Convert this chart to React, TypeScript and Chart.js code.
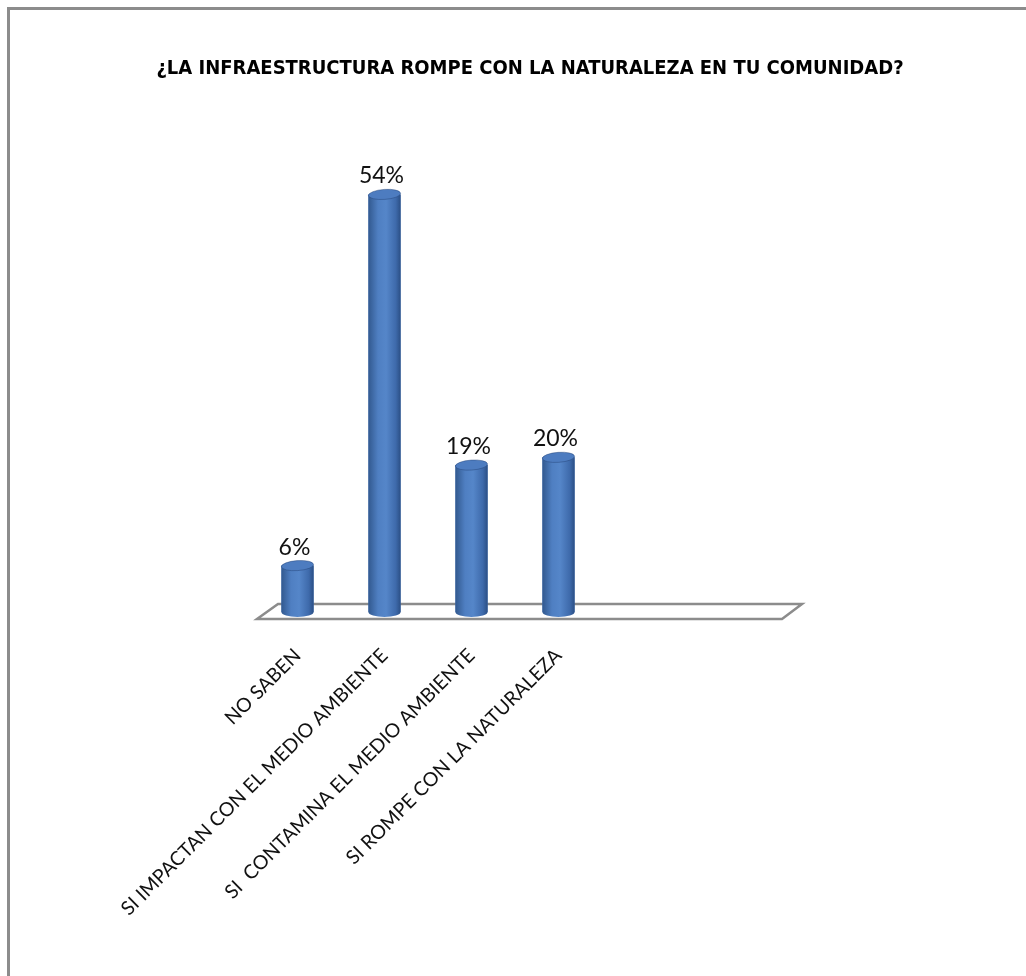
import React, { useEffect, useRef } from "react";
import { Chart, registerables } from "chart.js";
Chart.register(...registerables);

const TITLE = "¿LA INFRAESTRUCTURA ROMPE CON LA NATURALEZA EN TU COMUNIDAD?";
const categories = [
  "NO SABEN",
  "SI IMPACTAN CON EL MEDIO AMBIENTE",
  "SI  CONTAMINA EL MEDIO AMBIENTE",
  "SI ROMPE CON LA NATURALEZA",
  "",
  "",
];
const percentages: (number | null)[] = [6, 54, 19, 20, null, null];
const yMin = 0;
const yMax = 60;

const cylinderPlugin = {
  id: "cylinders",
  beforeDatasetsDraw(chart: any) {
    const { ctx, chartArea: a } = chart;
    ctx.save();
    ctx.strokeStyle = "#8c8c8c";
    ctx.lineWidth = 2.5;
    ctx.lineJoin = "miter";
    ctx.beginPath();
    ctx.moveTo(a.left + 3, a.bottom + 7);
    ctx.lineTo(a.right + 6, a.bottom + 7);
    ctx.lineTo(a.right + 26, a.bottom - 8);
    ctx.lineTo(a.left + 24, a.bottom - 8);
    ctx.closePath();
    ctx.stroke();
    ctx.restore();
  },
  afterDatasetsDraw(chart: any) {
    const { ctx } = chart;
    const meta = chart.getDatasetMeta(0);
    ctx.save();
    meta.data.forEach((bar: any, i: number) => {
      const v = percentages[i];
      if (v == null) return;
      const { x, y, base, width } = bar.getProps(["x", "y", "base", "width"], true);
      const rx = width / 2;
      const ry = 5;
      const l = x - rx;
      const r = x + rx;
      const g = ctx.createLinearGradient(l, 0, r, 0);
      g.addColorStop(0, "#32598f");
      g.addColorStop(0.3, "#4f7fc2");
      g.addColorStop(0.55, "#5586c9");
      g.addColorStop(0.85, "#3e6aab");
      g.addColorStop(1, "#2b4f85");
      ctx.fillStyle = g;
      ctx.beginPath();
      ctx.moveTo(l, y);
      ctx.lineTo(l, base);
      ctx.ellipse(x, base, rx, ry, 0, Math.PI, 0, true);
      ctx.lineTo(r, y);
      ctx.closePath();
      ctx.fill();
      ctx.beginPath();
      ctx.ellipse(x, y, rx, ry, -0.07, 0, Math.PI * 2);
      ctx.fillStyle = "#4d7cc0";
      ctx.fill();
      ctx.strokeStyle = "rgba(35,65,115,0.55)";
      ctx.lineWidth = 0.8;
      ctx.stroke();
      ctx.fillStyle = "#111";
      ctx.font = "23px Lato";
      ctx.textAlign = "center";
      ctx.textBaseline = "bottom";
      ctx.fillText(v + "%", x - 3, y - ry - 2);
    });
    ctx.restore();
  },
};

export default function App() {
  const ref = useRef<HTMLCanvasElement | null>(null);
  useEffect(() => {
    if (!ref.current) return;
    Chart.defaults.font.family = "Lato";
    const chart = new Chart(ref.current, {
      type: "bar",
      data: {
        labels: categories,
        datasets: [
          {
            data: percentages,
            backgroundColor: "#4a79bc",
            borderWidth: 0,
            categoryPercentage: 1,
            barPercentage: 0.37,
          },
        ],
      },
      options: {
        responsive: false,
        animation: false,
        layout: { padding: { left: 34, right: 0, top: 0, bottom: 0 } },
        plugins: {
          legend: { display: false },
          tooltip: { enabled: false },
          title: {
            display: true,
            text: TITLE,
            color: "#000",
            font: {
              family: "'Liberation Sans Narrow', 'DejaVu Sans Condensed', 'Roboto Condensed', 'Liberation Sans', sans-serif",
              weight: "bold",
              size: 20,
              lineHeight: 1.2,
            },
            padding: { top: 57, bottom: 67 },
          },
        },
        scales: {
          x: {
            grid: { display: false },
            border: { display: false },
            ticks: {
              autoSkip: false,
              maxRotation: 45,
              minRotation: 45,
              padding: 24,
              color: "#111",
              font: { family: "Lato", size: 19.5 },
            },
            afterFit(s: any) {
              s.height = 364;
            },
          },
          y: {
            min: yMin,
            max: yMax,
            grid: { display: false },
            border: { display: false },
            ticks: { display: false },
            afterFit(s: any) {
              s.width = 220;
            },
          },
          y1: {
            type: "linear",
            position: "right",
            grid: { display: false },
            border: { display: false },
            ticks: { display: false },
            afterFit(s: any) {
              s.width = 250;
            },
          },
        },
      } as any,
      plugins: [cylinderPlugin],
    });
    return () => chart.destroy();
  }, []);
  return (
    <div style={{ position: "absolute", left: 0, top: 0, width: 1026, height: 976, background: "#fff", overflow: "hidden" }}>
      <div
        style={{
          position: "absolute",
          left: 7,
          top: 7,
          right: 0,
          bottom: 0,
          borderLeft: "3px solid #8c8c8c",
          borderTop: "3px solid #8c8c8c",
        }}
      />
      <canvas ref={ref} width={1026} height={976} style={{ position: "absolute", left: 0, top: 0 }} />
    </div>
  );
}
